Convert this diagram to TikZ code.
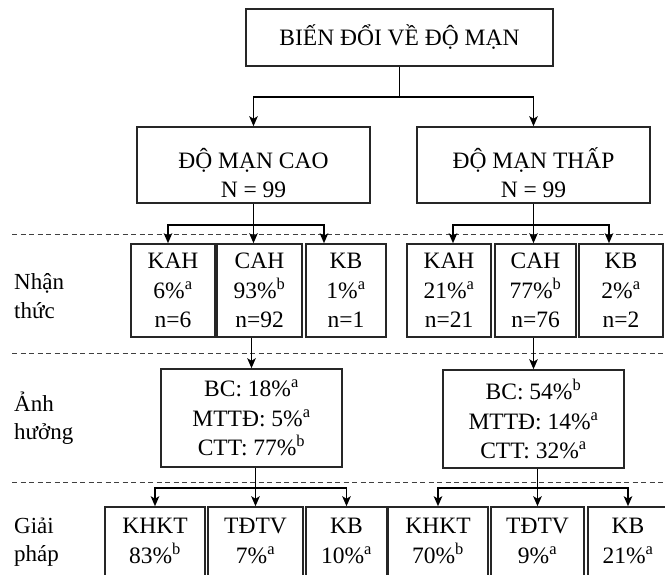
\documentclass[tikz,border=0pt]{standalone}
\usepackage{fontspec}
\setmainfont{Liberation Serif}
\usetikzlibrary{arrows.meta,calc,positioning}

\begin{document}
\begin{tikzpicture}[x=1pt, y=-1pt, >={Stealth[length=10pt,width=8.5pt,inset=2.5pt]},
    font=\fontsize{23.5}{29.5}\selectfont,
    box/.style={draw, line width=1.5pt, black!85, text=black, align=center, inner sep=0pt},
    cell/.style={box, minimum height=93pt},
    sol/.style={box, minimum height=106pt},
    link/.style={line width=1.7pt},
    sep/.style={dash pattern=on 5pt off 3.5pt, line width=1pt, black!75},
    side/.style={anchor=west, align=left, inner sep=0pt, font=\fontsize{23}{28.5}\selectfont}]
  \useasboundingbox (0,0) rectangle (665,575);
  \clip (0,0) rectangle (665,575);
  % level separators
  \draw[sep] (12,235) -- (665,235);
  \draw[sep] (12,353) -- (665,353);
  \draw[sep] (12,482) -- (665,482);
  % row names
  \node[side] (lblAw) at (14,296) {Nhận\\thức};
  \node[side] (lblEff) at (14,418) {Ảnh\\hưởng};
  \node[side] (lblSol) at (14,542) {Giải\\pháp};
  % top and the two groups
  \node[box, minimum width=307pt, minimum height=57pt] (root) at (399.5,37.5) {BIẾN ĐỔI VỀ ĐỘ MẠN};
  \node[box, minimum width=233pt, minimum height=76pt] (hi) at (253.5,165) {\rule{0pt}{36pt}ĐỘ MẠN CAO\\N = 99};
  \node[box, minimum width=233pt, minimum height=76pt] (lo) at (533.5,165) {\rule{0pt}{36pt}ĐỘ MẠN THẤP\\N = 99};
  % awareness
  \node[cell, minimum width=84pt] (kahL) at (173,290.5) {KAH\\6\%\textsuperscript{a}\\n=6};
  \node[cell, minimum width=85pt] (cahL) at (259.5,290.5) {CAH\\93\%\textsuperscript{b}\\n=92};
  \node[cell, minimum width=80pt] (kbL) at (346,290.5) {KB\\1\%\textsuperscript{a}\\n=1};
  \node[cell, minimum width=84pt] (kahR) at (449,290.5) {KAH\\21\%\textsuperscript{a}\\n=21};
  \node[cell, minimum width=81pt] (cahR) at (535.5,290.5) {CAH\\77\%\textsuperscript{b}\\n=76};
  \node[cell, minimum width=84pt] (kbR) at (621,290.5) {KB\\2\%\textsuperscript{a}\\n=2};
  % effects
  \node[box, minimum width=181pt, minimum height=98pt] (effL) at (251.5,418) {BC: 18\%\textsuperscript{a}\\MTTĐ: 5\%\textsuperscript{a}\\CTT: 77\%\textsuperscript{b}};
  \node[box, minimum width=181pt, minimum height=98pt] (effR) at (533.5,419) {BC: 54\%\textsuperscript{b}\\MTTĐ: 14\%\textsuperscript{a}\\CTT: 32\%\textsuperscript{a}};
  % solutions
  \node[sol, minimum width=100pt] (khktL) at (155,560) {KHKT\\83\%\textsuperscript{b}\\\strut};
  \node[sol, minimum width=95pt] (tdtvL) at (255.5,560) {TĐTV\\7\%\textsuperscript{a}\\\strut};
  \node[sol, minimum width=81pt] (kbsL) at (346.5,560) {KB\\10\%\textsuperscript{a}\\\strut};
  \node[sol, minimum width=100pt] (khktR) at (438,560) {KHKT\\70\%\textsuperscript{b}\\\strut};
  \node[sol, minimum width=93pt] (tdtvR) at (537.5,560) {TĐTV\\9\%\textsuperscript{a}\\\strut};
  \node[sol, minimum width=80pt] (kbsR) at (628,560) {KB\\21\%\textsuperscript{a}\\\strut};
  % root to groups
  \coordinate (jroot) at (root.south |- 0,97);
  \draw[link] (root.south) -- (jroot);
  \draw[link,->] (jroot) -| (hi.north);
  \draw[link,->] (jroot) -| (lo.north);
  % groups to awareness
  \coordinate (jhi) at (hi.south |- 0,225);
  \draw[link,->] (hi.south) -- (hi.south |- cahL.north);
  \draw[link,->] (jhi) -| ([xshift=-5pt]kahL.north);
  \draw[link,->] (jhi) -| ([xshift=-22pt]kbL.north);
  \coordinate (jlo) at (lo.south |- 0,225);
  \draw[link,->] (lo.south) -- (lo.south |- cahR.north);
  \draw[link,->] (jlo) -| ([xshift=4pt]kahR.north);
  \draw[link,->] (jlo) -| ([xshift=-12pt]kbR.north);
  % awareness to effects
  \draw[link,->] (effL.north |- cahL.south) -- (effL.north);
  \draw[link,->] (effR.north |- cahR.south) -- (effR.north);
  % effects to solutions
  \coordinate (jeffL) at (tdtvL.north |- 0,488);
  \draw[link,->] (tdtvL.north |- effL.south) -- (tdtvL.north);
  \draw[link,->] (jeffL) -| (khktL.north);
  \draw[link,->] (jeffL) -| (kbsL.north);
  \coordinate (jeffR) at (tdtvR.north |- 0,488);
  \draw[link,->] (tdtvR.north |- effR.south) -- (tdtvR.north);
  \draw[link,->] (jeffR) -| (khktR.north);
  \draw[link,->] (jeffR) -| (kbsR.north);
\end{tikzpicture}
\end{document}
